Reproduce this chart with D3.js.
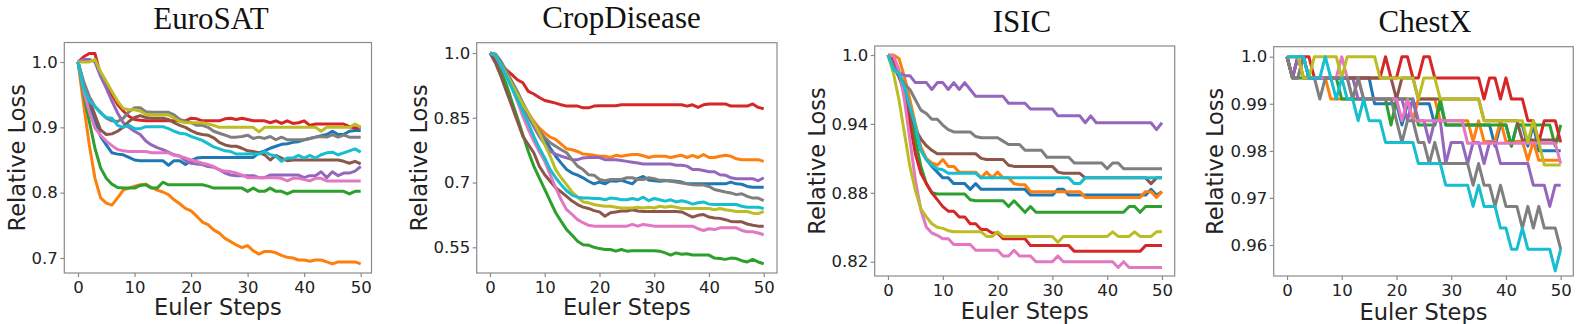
<!DOCTYPE html>
<html>
<head>
<meta charset="utf-8">
<script src="https://cdn.jsdelivr.net/npm/d3@7"></script>
<style>
  body { margin: 0; background: #fff; }
  svg { display: block; }
</style>
</head>
<body>
<svg id="chart" width="1578" height="324"></svg>
<script>
// tab10 order: blue, orange, green, red, purple, brown, pink, gray, olive, cyan
const COLORS = ["#1f77b4", "#ff7f0e", "#2ca02c", "#d62728", "#9467bd",
                "#8c564b", "#e377c2", "#7f7f7f", "#bcbd22", "#17becf"];

const titles = ["EuroSAT", "CropDisease", "ISIC", "ChestX"];
const xTicks = [0, 10, 20, 30, 40, 50];
const eurosatTicks = [0.7, 0.8, 0.9, 1.0];
const eurosatTickLabels = ["0.7", "0.8", "0.9", "1.0"];
const cropTicks = [0.55, 0.7, 0.85, 1.0];
const cropTickLabels = ["0.55", "0.7", "0.85", "1.0"];
const isicTicks = [0.82, 0.88, 0.94, 1.0];
const isicTickLabels = ["0.82", "0.88", "0.94", "1.0"];
const chestTicks = [0.96, 0.97, 0.98, 0.99, 1.0];
const chestTickLabels = ["0.96", "0.97", "0.98", "0.99", "1.0"];

// relative loss per Euler step (0..50), one row per colour
const eurosat = [
  [1.0,0.965,0.935,0.909,0.886,0.873,0.861,0.859,0.858,0.854,0.85,0.849,0.849,0.849,0.849,0.849,0.842,0.849,0.849,0.843,0.849,0.853,0.854,0.854,0.854,0.854,0.854,0.854,0.854,0.854,0.854,0.854,0.861,0.864,0.868,0.871,0.874,0.875,0.877,0.878,0.881,0.883,0.885,0.887,0.889,0.894,0.889,0.889,0.894,0.895,0.895],
  [1.0,0.935,0.873,0.822,0.792,0.784,0.781,0.792,0.804,0.807,0.81,0.812,0.813,0.808,0.804,0.801,0.797,0.789,0.783,0.776,0.772,0.764,0.755,0.751,0.743,0.738,0.73,0.725,0.72,0.716,0.719,0.711,0.706,0.71,0.71,0.708,0.704,0.701,0.7,0.697,0.697,0.695,0.697,0.697,0.694,0.691,0.694,0.694,0.694,0.694,0.691],
  [1.0,0.95,0.909,0.868,0.838,0.822,0.813,0.808,0.807,0.807,0.807,0.811,0.812,0.807,0.807,0.816,0.812,0.812,0.812,0.812,0.812,0.812,0.812,0.81,0.807,0.807,0.807,0.807,0.807,0.807,0.802,0.807,0.802,0.802,0.807,0.802,0.802,0.798,0.802,0.802,0.802,0.802,0.802,0.802,0.802,0.802,0.802,0.802,0.798,0.802,0.802],
  [1.0,1.008,1.013,1.013,0.98,0.965,0.95,0.935,0.925,0.917,0.912,0.911,0.91,0.91,0.91,0.91,0.91,0.91,0.91,0.91,0.914,0.913,0.91,0.91,0.91,0.91,0.913,0.914,0.912,0.914,0.912,0.91,0.91,0.91,0.907,0.91,0.906,0.91,0.906,0.907,0.91,0.903,0.905,0.905,0.905,0.905,0.905,0.905,0.901,0.899,0.9],
  [1.0,1.004,1.004,1.0,0.978,0.96,0.94,0.922,0.907,0.9,0.894,0.889,0.879,0.873,0.869,0.866,0.862,0.858,0.856,0.849,0.845,0.844,0.843,0.84,0.839,0.835,0.83,0.827,0.826,0.826,0.826,0.826,0.823,0.823,0.827,0.827,0.827,0.827,0.827,0.827,0.823,0.826,0.826,0.832,0.823,0.832,0.826,0.83,0.83,0.833,0.84],
  [1.0,0.965,0.942,0.919,0.896,0.889,0.89,0.894,0.9,0.909,0.915,0.918,0.915,0.914,0.914,0.914,0.912,0.907,0.903,0.9,0.895,0.891,0.889,0.888,0.884,0.877,0.873,0.871,0.871,0.868,0.864,0.863,0.861,0.858,0.85,0.857,0.853,0.849,0.85,0.85,0.85,0.85,0.85,0.85,0.85,0.85,0.85,0.848,0.845,0.848,0.844],
  [1.0,0.955,0.924,0.899,0.888,0.879,0.872,0.866,0.864,0.863,0.863,0.863,0.863,0.861,0.861,0.861,0.861,0.857,0.856,0.853,0.85,0.848,0.845,0.843,0.84,0.835,0.833,0.832,0.83,0.827,0.823,0.823,0.823,0.823,0.823,0.823,0.822,0.818,0.822,0.822,0.82,0.818,0.822,0.822,0.818,0.818,0.818,0.818,0.818,0.818,0.818],
  [1.0,0.97,0.947,0.932,0.923,0.914,0.91,0.909,0.914,0.924,0.93,0.93,0.924,0.923,0.923,0.923,0.923,0.919,0.912,0.909,0.907,0.903,0.903,0.9,0.894,0.891,0.888,0.885,0.885,0.886,0.888,0.883,0.885,0.883,0.886,0.881,0.885,0.881,0.881,0.881,0.881,0.883,0.885,0.886,0.885,0.889,0.885,0.888,0.885,0.885,0.885],
  [1.0,1.0,1.0,1.004,0.985,0.97,0.955,0.94,0.929,0.927,0.927,0.925,0.92,0.919,0.919,0.919,0.919,0.914,0.909,0.907,0.907,0.907,0.907,0.905,0.903,0.9,0.9,0.9,0.9,0.9,0.9,0.9,0.893,0.9,0.9,0.9,0.9,0.9,0.9,0.9,0.9,0.9,0.9,0.894,0.9,0.9,0.9,0.9,0.9,0.905,0.9],
  [1.0,0.96,0.94,0.932,0.922,0.915,0.914,0.903,0.9,0.903,0.898,0.898,0.901,0.901,0.901,0.901,0.898,0.894,0.891,0.89,0.886,0.883,0.88,0.875,0.87,0.867,0.864,0.863,0.859,0.859,0.859,0.859,0.859,0.863,0.858,0.856,0.848,0.853,0.853,0.857,0.853,0.857,0.853,0.858,0.861,0.862,0.858,0.861,0.864,0.867,0.862]
];

const cropDisease = [
  [1.0,0.992,0.973,0.95,0.927,0.904,0.88,0.857,0.834,0.815,0.8,0.78,0.761,0.745,0.73,0.722,0.717,0.711,0.703,0.697,0.701,0.697,0.704,0.703,0.705,0.701,0.697,0.709,0.714,0.706,0.704,0.703,0.704,0.704,0.703,0.701,0.697,0.697,0.697,0.697,0.697,0.697,0.697,0.697,0.701,0.697,0.696,0.691,0.689,0.689,0.689],
  [1.0,0.992,0.973,0.95,0.927,0.904,0.88,0.861,0.842,0.826,0.815,0.805,0.8,0.789,0.778,0.776,0.772,0.766,0.765,0.763,0.761,0.761,0.758,0.763,0.761,0.763,0.765,0.765,0.762,0.758,0.761,0.761,0.761,0.758,0.761,0.763,0.758,0.763,0.758,0.765,0.758,0.758,0.761,0.763,0.761,0.755,0.753,0.753,0.753,0.753,0.749],
  [1.0,0.985,0.958,0.927,0.888,0.85,0.811,0.772,0.738,0.711,0.684,0.657,0.63,0.61,0.591,0.578,0.564,0.556,0.555,0.55,0.547,0.545,0.545,0.541,0.545,0.541,0.542,0.542,0.542,0.542,0.542,0.541,0.537,0.532,0.537,0.534,0.535,0.532,0.532,0.532,0.532,0.525,0.524,0.522,0.525,0.524,0.519,0.516,0.522,0.516,0.512],
  [1.0,0.988,0.973,0.961,0.95,0.938,0.931,0.911,0.905,0.897,0.89,0.887,0.884,0.88,0.877,0.877,0.877,0.873,0.873,0.877,0.878,0.878,0.878,0.878,0.88,0.88,0.88,0.88,0.88,0.88,0.88,0.88,0.88,0.88,0.88,0.88,0.877,0.88,0.874,0.88,0.882,0.882,0.882,0.882,0.877,0.877,0.877,0.877,0.882,0.874,0.871],
  [1.0,0.992,0.969,0.946,0.923,0.9,0.877,0.853,0.83,0.807,0.789,0.772,0.766,0.761,0.757,0.753,0.753,0.757,0.758,0.758,0.758,0.753,0.753,0.753,0.751,0.749,0.747,0.745,0.743,0.743,0.743,0.743,0.743,0.743,0.74,0.74,0.738,0.73,0.73,0.728,0.725,0.725,0.718,0.717,0.711,0.709,0.709,0.709,0.709,0.704,0.711],
  [1.0,0.977,0.946,0.911,0.877,0.842,0.807,0.788,0.769,0.738,0.718,0.703,0.688,0.678,0.668,0.657,0.649,0.643,0.64,0.635,0.632,0.622,0.63,0.632,0.634,0.634,0.637,0.634,0.633,0.633,0.633,0.633,0.633,0.633,0.633,0.632,0.626,0.62,0.624,0.626,0.62,0.618,0.617,0.614,0.61,0.609,0.609,0.604,0.601,0.599,0.599],
  [1.0,0.996,0.977,0.95,0.919,0.888,0.853,0.823,0.796,0.772,0.749,0.718,0.688,0.66,0.637,0.626,0.614,0.607,0.601,0.599,0.599,0.599,0.599,0.599,0.599,0.599,0.603,0.599,0.603,0.601,0.599,0.599,0.599,0.599,0.599,0.599,0.599,0.599,0.593,0.589,0.593,0.591,0.595,0.595,0.595,0.595,0.589,0.586,0.586,0.583,0.579],
  [1.0,0.998,0.981,0.958,0.934,0.911,0.884,0.861,0.838,0.819,0.805,0.792,0.784,0.776,0.769,0.753,0.738,0.73,0.718,0.717,0.707,0.704,0.707,0.707,0.707,0.711,0.711,0.707,0.707,0.711,0.709,0.705,0.705,0.703,0.701,0.699,0.697,0.695,0.694,0.694,0.691,0.684,0.681,0.678,0.676,0.672,0.674,0.668,0.664,0.664,0.658],
  [1.0,0.995,0.973,0.95,0.927,0.904,0.88,0.861,0.838,0.815,0.788,0.761,0.73,0.711,0.695,0.678,0.666,0.655,0.653,0.649,0.647,0.645,0.645,0.643,0.641,0.641,0.641,0.643,0.641,0.643,0.641,0.645,0.643,0.645,0.643,0.64,0.64,0.64,0.64,0.64,0.64,0.637,0.64,0.637,0.635,0.633,0.633,0.633,0.629,0.628,0.633],
  [1.0,0.995,0.973,0.946,0.919,0.892,0.865,0.838,0.807,0.78,0.757,0.73,0.711,0.695,0.681,0.671,0.666,0.664,0.664,0.663,0.663,0.66,0.664,0.663,0.66,0.66,0.663,0.66,0.666,0.658,0.663,0.66,0.657,0.66,0.655,0.658,0.655,0.65,0.653,0.655,0.65,0.649,0.649,0.649,0.649,0.649,0.645,0.643,0.643,0.643,0.64]
];

const isic = [
  [1.0,0.996,0.984,0.972,0.955,0.938,0.917,0.909,0.903,0.898,0.893,0.893,0.888,0.888,0.888,0.883,0.888,0.883,0.883,0.883,0.883,0.883,0.883,0.883,0.883,0.883,0.878,0.878,0.878,0.878,0.878,0.883,0.883,0.878,0.878,0.878,0.878,0.878,0.878,0.878,0.878,0.878,0.878,0.878,0.878,0.878,0.878,0.878,0.883,0.878,0.881],
  [1.0,1.0,0.997,0.981,0.961,0.94,0.92,0.91,0.906,0.904,0.909,0.903,0.903,0.898,0.898,0.898,0.898,0.893,0.898,0.893,0.898,0.893,0.893,0.888,0.887,0.887,0.881,0.881,0.881,0.881,0.881,0.881,0.881,0.881,0.881,0.881,0.876,0.876,0.876,0.876,0.876,0.876,0.876,0.876,0.876,0.876,0.876,0.881,0.881,0.876,0.881],
  [1.0,0.996,0.984,0.97,0.949,0.926,0.903,0.888,0.88,0.879,0.879,0.879,0.879,0.879,0.879,0.874,0.873,0.873,0.873,0.873,0.873,0.873,0.868,0.873,0.868,0.863,0.868,0.863,0.863,0.863,0.863,0.863,0.863,0.863,0.863,0.863,0.863,0.863,0.863,0.863,0.863,0.863,0.863,0.863,0.868,0.868,0.863,0.868,0.868,0.868,0.868],
  [1.0,0.996,0.984,0.967,0.94,0.914,0.897,0.888,0.88,0.874,0.868,0.864,0.864,0.859,0.859,0.853,0.853,0.848,0.848,0.845,0.845,0.84,0.84,0.84,0.84,0.84,0.834,0.834,0.834,0.834,0.834,0.834,0.834,0.834,0.829,0.829,0.829,0.829,0.829,0.829,0.829,0.829,0.829,0.829,0.829,0.829,0.829,0.834,0.834,0.834,0.834],
  [1.0,0.99,0.985,0.982,0.982,0.976,0.976,0.976,0.97,0.976,0.976,0.97,0.976,0.97,0.976,0.97,0.964,0.964,0.964,0.964,0.964,0.964,0.958,0.958,0.958,0.958,0.953,0.953,0.953,0.953,0.953,0.947,0.947,0.947,0.947,0.947,0.941,0.947,0.941,0.941,0.941,0.941,0.941,0.941,0.941,0.941,0.941,0.941,0.941,0.935,0.941],
  [1.0,0.99,0.981,0.967,0.951,0.935,0.927,0.921,0.917,0.914,0.914,0.914,0.914,0.914,0.914,0.914,0.914,0.91,0.909,0.909,0.909,0.909,0.904,0.903,0.903,0.903,0.903,0.903,0.903,0.903,0.903,0.898,0.897,0.897,0.897,0.897,0.893,0.893,0.893,0.893,0.893,0.893,0.893,0.893,0.893,0.893,0.893,0.893,0.888,0.893,0.893],
  [1.0,0.999,0.987,0.961,0.926,0.891,0.865,0.85,0.845,0.843,0.84,0.84,0.835,0.835,0.835,0.835,0.83,0.83,0.83,0.83,0.83,0.825,0.825,0.83,0.825,0.825,0.825,0.82,0.82,0.82,0.82,0.825,0.82,0.82,0.82,0.82,0.82,0.82,0.82,0.82,0.82,0.82,0.815,0.82,0.815,0.815,0.815,0.815,0.815,0.815,0.815],
  [1.0,0.99,0.983,0.975,0.97,0.961,0.952,0.949,0.944,0.944,0.939,0.935,0.933,0.933,0.933,0.933,0.929,0.928,0.928,0.928,0.928,0.925,0.922,0.922,0.922,0.917,0.917,0.917,0.917,0.911,0.911,0.911,0.911,0.911,0.906,0.906,0.906,0.906,0.906,0.906,0.901,0.906,0.906,0.901,0.901,0.901,0.901,0.901,0.901,0.901,0.901],
  [1.0,0.984,0.961,0.932,0.903,0.882,0.866,0.859,0.853,0.85,0.849,0.847,0.846,0.846,0.846,0.846,0.846,0.846,0.842,0.842,0.846,0.842,0.842,0.842,0.842,0.842,0.842,0.842,0.842,0.842,0.842,0.837,0.842,0.842,0.842,0.842,0.842,0.842,0.842,0.842,0.842,0.846,0.842,0.842,0.842,0.846,0.842,0.842,0.842,0.846,0.846],
  [1.0,0.987,0.984,0.972,0.955,0.938,0.917,0.909,0.904,0.901,0.9,0.897,0.897,0.897,0.897,0.897,0.897,0.893,0.893,0.893,0.893,0.893,0.893,0.893,0.893,0.893,0.893,0.893,0.893,0.893,0.893,0.893,0.893,0.893,0.888,0.888,0.893,0.893,0.893,0.893,0.893,0.893,0.893,0.893,0.893,0.893,0.893,0.893,0.893,0.893,0.893]
];

const chestX = [
  [1.0,0.9955,1.0,1.0,0.9955,0.9955,0.9955,0.9955,0.9955,0.9955,0.9955,0.9955,0.9955,0.9955,0.9955,0.9955,0.99,0.99,0.99,0.99,0.99,0.9855,0.99,0.99,0.99,0.99,0.99,0.9855,0.99,0.9855,0.9855,0.9855,0.9855,0.9855,0.9855,0.9855,0.9855,0.9855,0.981,0.9855,0.9855,0.981,0.9855,0.9855,0.981,0.9855,0.98,0.98,0.98,0.98,0.98],
  [1.0,1.0,1.0,0.9955,0.9955,0.9955,0.9955,0.9955,0.991,0.991,0.991,0.991,0.991,0.991,0.991,0.991,0.991,0.991,0.991,0.991,0.991,0.991,0.991,0.9864,0.991,0.991,0.991,0.991,0.9864,0.9864,0.9864,0.9864,0.9864,0.9864,0.982,0.9864,0.982,0.982,0.982,0.9864,0.982,0.982,0.982,0.982,0.978,0.982,0.978,0.978,0.978,0.978,0.978],
  [1.0,0.9955,0.9955,0.9955,0.9955,0.9955,0.9955,0.9955,0.9955,0.9955,0.991,0.991,0.991,0.991,0.991,0.991,0.991,0.991,0.991,0.9855,0.991,0.991,0.991,0.991,0.9855,0.9855,0.9855,0.9855,0.991,0.9855,0.9855,0.9855,0.9855,0.9855,0.9855,0.9855,0.9855,0.9855,0.9855,0.9855,0.9855,0.981,0.9855,0.9855,0.9855,0.9855,0.9855,0.9855,0.9855,0.981,0.9855],
  [1.0,0.9955,1.0,1.0,1.0,0.9955,0.9955,0.9955,0.9955,0.9955,0.9955,0.9955,0.9955,0.9955,0.9955,0.9955,0.9955,0.9955,1.0,0.9955,0.9955,1.0,1.0,0.9955,0.9955,1.0,1.0,0.9955,0.9955,0.9955,0.9955,0.9955,0.9955,0.9955,0.9955,0.9955,0.991,0.9955,0.9955,0.991,0.9955,0.991,0.991,0.991,0.9864,0.9864,0.9818,0.9864,0.9864,0.9864,0.9818],
  [1.0,0.9955,1.0,0.9955,0.9955,0.9955,0.9955,0.9955,0.9955,0.9955,0.9955,0.9955,0.9955,0.991,0.991,0.991,0.991,0.991,0.991,0.991,0.991,0.991,0.9864,0.991,0.9864,0.9864,0.9818,0.9864,0.9864,0.9773,0.9818,0.9818,0.9818,0.9773,0.9818,0.9818,0.9773,0.9818,0.9818,0.9773,0.9773,0.9773,0.9773,0.9773,0.9773,0.9727,0.9727,0.9727,0.9682,0.9727,0.9727],
  [1.0,0.9955,0.9955,1.0,0.9955,0.9955,0.9955,0.9955,0.9955,0.9955,0.9955,0.9955,0.9955,0.9955,0.9955,0.9955,0.9955,0.9955,0.9955,0.9955,0.991,0.9955,0.9955,0.9955,0.991,0.991,0.991,0.991,0.991,0.991,0.991,0.991,0.991,0.991,0.991,0.991,0.9864,0.9864,0.9864,0.9864,0.9864,0.9864,0.9864,0.9823,0.9823,0.9823,0.9823,0.9823,0.9823,0.9823,0.9823],
  [1.0,1.0,1.0,1.0,0.9955,0.9955,0.9955,0.9955,0.9955,0.9955,1.0,0.9955,0.991,0.9955,0.991,0.991,0.991,0.991,0.991,0.991,0.991,0.9864,0.991,0.9864,0.9864,0.9864,0.9864,0.9864,0.9864,0.9864,0.9864,0.9864,0.9864,0.9816,0.9816,0.9816,0.9816,0.9816,0.9816,0.9816,0.9816,0.9816,0.9816,0.9816,0.9816,0.9816,0.9816,0.9816,0.9816,0.9816,0.9773],
  [1.0,0.9955,0.9955,1.0,0.9955,0.9955,0.991,0.9955,0.9955,0.9955,0.9955,0.9955,0.991,0.9955,0.991,0.991,0.991,0.991,0.991,0.991,0.9864,0.9818,0.9864,0.9864,0.9818,0.9818,0.9773,0.9818,0.9773,0.9773,0.9773,0.9773,0.9773,0.9773,0.9727,0.9773,0.9727,0.9727,0.9682,0.9727,0.9682,0.9682,0.9682,0.9636,0.9682,0.9636,0.9682,0.9636,0.9636,0.9636,0.9591],
  [1.0,1.0,1.0,0.9955,0.9955,1.0,1.0,1.0,1.0,1.0,0.9955,1.0,1.0,1.0,1.0,1.0,1.0,0.9955,0.9955,0.9955,0.9955,0.9955,0.9955,0.9955,0.991,0.9955,0.9955,0.9955,0.991,0.991,0.991,0.991,0.991,0.991,0.991,0.991,0.9864,0.9864,0.9864,0.9864,0.9864,0.9864,0.9864,0.9864,0.9818,0.9864,0.9818,0.977,0.977,0.977,0.977],
  [1.0,1.0,1.0,1.0,0.9955,0.9955,0.9955,1.0,0.9955,0.991,0.9955,0.991,0.991,0.9864,0.991,0.9864,0.9864,0.9864,0.9818,0.9818,0.9818,0.9818,0.9818,0.9818,0.9773,0.9773,0.9773,0.9773,0.9773,0.9727,0.9727,0.9727,0.9727,0.9727,0.9682,0.9727,0.9682,0.9682,0.9682,0.9636,0.9636,0.9591,0.9591,0.9636,0.9591,0.9591,0.9591,0.9591,0.9591,0.9545,0.9591]
];

// pixel frame of each panel: box [left, right, top, bottom],
// x range for steps 0..50, and two (value, px) anchors on y
const panels = [
  { series: eurosat, ticks: eurosatTicks, labels: eurosatTickLabels,
    box: [64.3, 371.5, 42.5, 273], xr: [78, 360.7], ya: [[1.0, 62], [0.7, 258]],
    titleX: 211, titleY: 28.5, ylabX: 25, xlabY: 315 },
  { series: cropDisease, ticks: cropTicks, labels: cropTickLabels,
    box: [476.7, 777, 42.7, 273], xr: [490, 763.7], ya: [[1.0, 53], [0.55, 247.3]],
    titleX: 621.5, titleY: 28.3, ylabX: 426.5, xlabY: 315.3 },
  { series: isic, ticks: isicTicks, labels: isicTickLabels,
    box: [874.7, 1174.7, 46, 276], xr: [888, 1162], ya: [[1.0, 55], [0.82, 261.7]],
    titleX: 1022, titleY: 31.7, ylabX: 825, xlabY: 318.5 },
  { series: chestX, ticks: chestTicks, labels: chestTickLabels,
    box: [1273.7, 1573.3, 46.7, 276], xr: [1287, 1560.7], ya: [[1.0, 56.7], [0.96, 245]],
    titleX: 1425, titleY: 32.3, ylabX: 1223.3, xlabY: 320 }
];

const svg = d3.select("#chart");
const SPINE = "#8a8a8a";
const FONT = "'DejaVu Sans', sans-serif";

panels.forEach((p, pi) => {
  const [x0, x1, y0, y1] = p.box;
  const x = d3.scaleLinear().domain([0, 50]).range(p.xr);
  const y = d3.scaleLinear().domain([p.ya[0][0], p.ya[1][0]]).range([p.ya[0][1], p.ya[1][1]]);
  const g = svg.append("g");

  const line = d3.line().x((d, i) => x(i)).y(d => y(d));
  g.append("g").selectAll("path")
    .data(p.series)
    .join("path")
    .attr("d", line)
    .attr("fill", "none")
    .attr("stroke", (d, i) => COLORS[i])
    .attr("stroke-width", 3)
    .attr("stroke-linejoin", "round");

  g.append("rect")
    .attr("x", x0).attr("y", y0)
    .attr("width", x1 - x0).attr("height", y1 - y0)
    .attr("fill", "none")
    .attr("stroke", SPINE)
    .attr("stroke-width", 1.2);

  const xAxis = g.append("g")
    .attr("transform", `translate(0,${y1})`)
    .call(d3.axisBottom(x).tickValues(xTicks).tickSize(4).tickPadding(4));
  const yAxis = g.append("g")
    .attr("transform", `translate(${x0},0)`)
    .call(d3.axisLeft(y).tickValues(p.ticks).tickSize(4).tickPadding(2.5)
      .tickFormat((d, i) => p.labels[i]));

  [xAxis, yAxis].forEach(a => {
    a.select(".domain").remove();
    a.selectAll(".tick line").attr("stroke", SPINE).attr("stroke-width", 1.2);
    a.selectAll(".tick text")
      .attr("fill", "#222")
      .style("font-family", FONT)
      .style("font-size", "16.5px");
  });

  g.append("text")
    .attr("x", p.titleX).attr("y", p.titleY)
    .attr("text-anchor", "middle")
    .style("font-family", "'Liberation Serif', 'Times New Roman', serif")
    .style("font-size", "31px")
    .attr("fill", "#111")
    .text(titles[pi]);

  g.append("text")
    .attr("x", (x0 + x1) / 2).attr("y", p.xlabY)
    .attr("text-anchor", "middle")
    .style("font-family", FONT)
    .style("font-size", "22.5px")
    .attr("fill", "#222")
    .text("Euler Steps");

  g.append("text")
    .attr("transform", `translate(${p.ylabX},${(y0 + y1) / 2}) rotate(-90)`)
    .attr("text-anchor", "middle")
    .style("font-family", FONT)
    .style("font-size", "22.5px")
    .attr("fill", "#222")
    .text("Relative Loss");
});
</script>
</body>
</html>
